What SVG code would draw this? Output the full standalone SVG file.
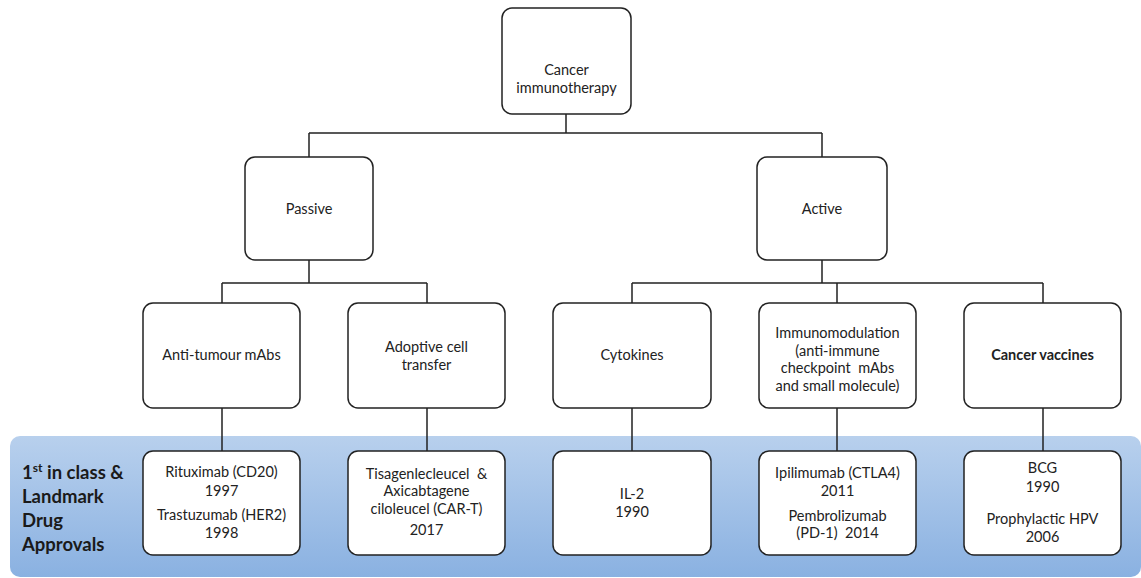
<svg xmlns="http://www.w3.org/2000/svg" width="1141" height="578" viewBox="0 0 1141 578">
<defs>
<linearGradient id="band" x1="0" y1="0" x2="0" y2="1">
<stop offset="0" stop-color="#b8d0ed"/>
<stop offset="1" stop-color="#8ab1e1"/>
</linearGradient>
<style>
.box{fill:#fff;stroke:#222;stroke-width:1.5}
.t{font-family:Lato,"Open Sans","Liberation Sans",sans-serif;font-size:14.5px;fill:#222;text-anchor:middle;white-space:pre}
.b{font-weight:bold}
.lbl{font-family:Lato,"Open Sans","Liberation Sans",sans-serif;font-size:18.5px;font-weight:bold;fill:#1a1a1a}
.c{fill:none;stroke:#222;stroke-width:1.5}
</style>
</defs>
<rect id="band-bg" x="10" y="436" width="1131" height="141" rx="10" fill="url(#band)"/>
<g id="connectors">
<path class="c" d="M566 114V133M309 133H822M309 133V157M822 133V157"/>
<path class="c" d="M309 260V283M222 283H427M222 283V303M427 283V303"/>
<path class="c" d="M822 260V283M632 283H1043M632 283V303M837 283V303M1043 283V303"/>
<path class="c" d="M222 408V451M427 408V451M632 408V451M837 408V451M1043 408V451"/>
</g>
<g id="n-root"><rect class="box" x="502" y="8" width="129" height="106" rx="10"/>
<text class="t" x="566.5" y="75">Cancer</text><text class="t" x="566.5" y="93">immunotherapy</text></g>
<g id="n-passive"><rect class="box" x="245" y="157" width="128" height="103" rx="10"/>
<text class="t" x="309" y="214">Passive</text></g>
<g id="n-active"><rect class="box" x="757" y="157" width="130" height="103" rx="10"/>
<text class="t" x="822" y="214">Active</text></g>
<g id="n-mabs"><rect class="box" x="143" y="303" width="157" height="105" rx="10"/>
<text class="t" x="221.5" y="360">Anti-tumour mAbs</text></g>
<g id="n-act"><rect class="box" x="348" y="303" width="157" height="105" rx="10"/>
<text class="t" x="426.5" y="352">Adoptive cell</text><text class="t" x="426.5" y="370">transfer</text></g>
<g id="n-cyto"><rect class="box" x="553" y="303" width="158" height="105" rx="10"/>
<text class="t" x="632" y="360">Cytokines</text></g>
<g id="n-immuno"><rect class="box" x="759" y="303" width="157" height="105" rx="10"/>
<text class="t" x="837.5" y="338">Immunomodulation</text><text class="t" x="837.5" y="356">(anti-immune</text><text class="t" x="837.5" y="373">checkpoint  mAbs</text><text class="t" x="837.5" y="391">and small molecule)</text></g>
<g id="n-vacc"><rect class="box" x="964" y="303" width="157" height="105" rx="10"/>
<text class="t b" x="1042.5" y="360">Cancer vaccines</text></g>
<g id="n-label"><text class="lbl" x="22" y="479">1<tspan font-size="12" dy="-7">st</tspan><tspan dy="7"> in class &amp;</tspan></text>
<text class="lbl" x="22" y="503">Landmark</text><text class="lbl" x="22" y="527">Drug</text><text class="lbl" x="22" y="551">Approvals</text></g>
<g id="n-d1"><rect class="box" x="143" y="451" width="157" height="104" rx="10"/>
<text class="t" x="221.5" y="477">Rituximab (CD20)</text><text class="t" x="221.5" y="496">1997</text><text class="t" x="221.5" y="520">Trastuzumab (HER2)</text><text class="t" x="221.5" y="538">1998</text></g>
<g id="n-d2"><rect class="box" x="348" y="451" width="157" height="104" rx="10"/>
<text class="t" x="426.5" y="479">Tisagenlecleucel  &amp;</text><text class="t" x="426.5" y="496">Axicabtagene</text><text class="t" x="426.5" y="514">ciloleucel (CAR-T)</text><text class="t" x="426.5" y="535">2017</text></g>
<g id="n-d3"><rect class="box" x="553" y="451" width="158" height="104" rx="10"/>
<text class="t" x="632" y="499">IL-2</text><text class="t" x="632" y="517">1990</text></g>
<g id="n-d4"><rect class="box" x="759" y="451" width="157" height="104" rx="10"/>
<text class="t" x="837.5" y="478">Ipilimumab (CTLA4)</text><text class="t" x="837.5" y="496">2011</text><text class="t" x="837.5" y="521">Pembrolizumab</text><text class="t" x="837.5" y="538">(PD-1)  2014</text></g>
<g id="n-d5"><rect class="box" x="964" y="451" width="157" height="104" rx="10"/>
<text class="t" x="1042.5" y="473">BCG</text><text class="t" x="1042.5" y="492">1990</text><text class="t" x="1042.5" y="524">Prophylactic HPV</text><text class="t" x="1042.5" y="542">2006</text></g>
</svg>
